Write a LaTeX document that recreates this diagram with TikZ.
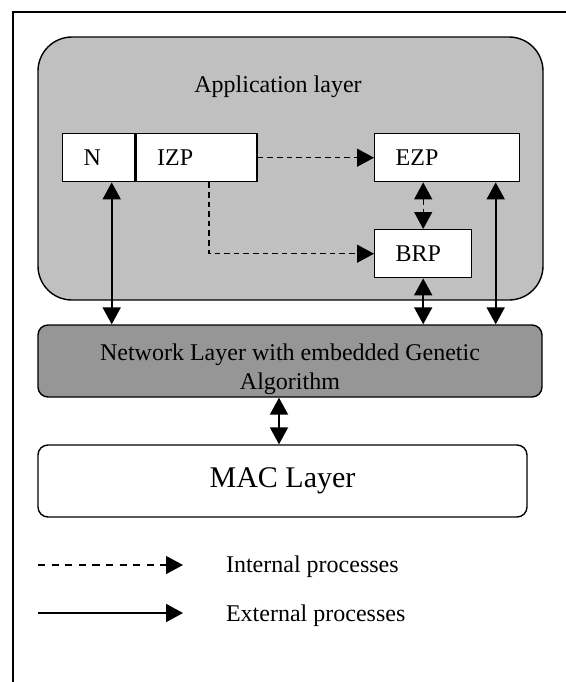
\documentclass[tikz,border=0pt]{standalone}
\usepackage{fontspec}
\setmainfont{Liberation Serif}
\usetikzlibrary{arrows.meta,positioning}
\definecolor{appgray}{RGB}{192,192,192}
\definecolor{netgray}{RGB}{150,150,150}

\begin{document}
\begin{tikzpicture}[x=0.5pt,y=-0.5pt,>={Triangle[length=8.5pt,width=9pt]},
	font=\fontsize{12}{14.5}\selectfont,
	box/.style={draw,fill=white,line width=0.7pt,minimum height=24pt,inner xsep=10.5pt,align=left},
	layer/.style={draw,line width=0.7pt,rounded corners=5pt,minimum height=36pt},
	ext/.style={<->,line width=1pt},
	int/.style={->,line width=0.7pt,dash pattern=on 2.8pt off 2pt}]
\useasboundingbox (0,0) rectangle (566,682);
\draw [line width=0.7pt] (13,682) -- (13,12) -- (566,12);
\node[draw,fill=appgray,line width=0.7pt,rounded corners=17pt,minimum width=252.5pt,minimum height=131.5pt] (app) at (290.5,168.5) {};
\node (apptitle) at (278,87) {Application layer};
\node[box,text width=15pt,anchor=north west] (n) at (62,133) {N};
\node[box,text width=39.5pt,right=0pt of n] (izp) {IZP};
\node[box,text width=51.5pt,anchor=north west] (ezp) at (374,133) {EZP};
\node[box,text width=27.5pt,anchor=north west] (brp) at (374,229) {BRP};
\node[layer,fill=netgray,minimum width=252pt] (net) at (290,361) {};
\node[align=center] (nettext) at (290,369) {Network Layer with embedded Genetic\\Algorithm};
\node[layer,fill=white,minimum width=244.5pt,font=\fontsize{15}{18}\selectfont] (mac) at (282.5,481) {MAC Layer};
% internal
\draw [int] (izp.east) -- (ezp.west);
\draw [int] ([xshift=6.25pt]izp.south) |- (brp.west);
\draw [int,<->] (brp.north |- ezp.south) -- (brp.north);
% external
\draw [ext] ([xshift=6.5pt]n.south) -- ([xshift=6.5pt]n.south |- net.north);
\draw [ext] (brp.south) -- (brp.south |- net.north);
\draw [ext] ([xshift=24.25pt]ezp.south) -- ([xshift=24.25pt]ezp.south |- net.north);
\draw [ext] ([xshift=-1.75pt]mac.north |- net.south) -- ([xshift=-1.75pt]mac.north);
% legend
\coordinate (intfrom) at (38,565);
\coordinate (intto) at (183,565);
\coordinate (extfrom) at (38,613);
\coordinate (extto) at (183,613);
\node[anchor=west] (intlabel) at (219,567) {Internal processes};
\node[anchor=west] (extlabel) at (219,616) {External processes};
\draw [int,dash pattern=on 3.6pt off 3.2pt] (intfrom) -- (intto);
\draw [->,line width=1pt] (extfrom) -- (extto);
\end{tikzpicture}
\end{document}
